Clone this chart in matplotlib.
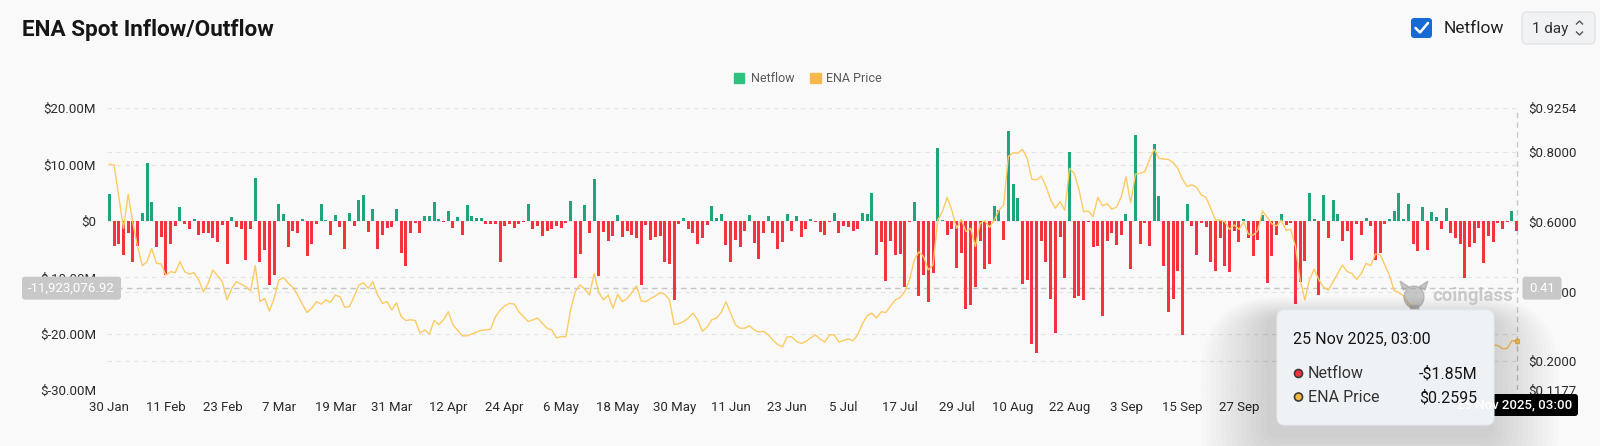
import numpy as np
import pandas as pd
import matplotlib
matplotlib.use("Agg")
import matplotlib.pyplot as plt
from matplotlib.patches import FancyBboxPatch, Rectangle, Ellipse, Polygon

plt.rcParams['font.family'] = ['Roboto', 'DejaVu Sans']

# daily netflow in $M, 30 Jan -> 25 Nov 2025
netflow = [
    4.85, -4.4, -4.1, -6.0, -2.2, -7.2, -4.4, 1.5, 10.3, 3.3,
    -4.6, -2.8, -9.5, -4.0, -0.9, 2.5, -0.5, -1.4, 0.35, -2.4,
    -2.2, -2.1, -3.0, -3.8, -0.8, -7.6, 0.7, -1.1, -1.5, -6.9,
    -1.4, 7.6, -7.3, -5.2, -11.3, -9.5, 3.1, 1.3, -4.6, -1.8,
    -2.1, 0.3, -6.2, -4.1, -0.5, 3.1, 0.1, -2.4, 1.1, -1.1,
    -4.9, 1.5, -0.95, 3.8, 4.6, -2.0, 2.1, -5.0, -2.4, -1.2,
    -1.1, 2.2, -5.7, -8.0, -2.2, -0.4, -2.2, 0.9, 0.8, 3.3,
    0.4, -0.2, 1.7, -1.2, 0.7, -2.5, 2.8, 0.8, 0.6, 0.5,
    -0.6, -0.6, -0.6, -7.3, -0.9, -0.5, -1.2, -0.6, -0.2, 3.0,
    -1.4, -0.9, -2.7, -1.7, -1.4, -0.9, -1.2, -0.3, 3.5, -10.2,
    -5.8, 2.9, -2.2, 7.5, -9.8, -2.0, -3.6, -2.7, 1.0, -2.8,
    -1.7, -2.4, -3.1, -11.4, -0.65, -3.3, -2.8, -2.7, -7.3, -7.6,
    -14.1, -0.6, 0.6, -1.4, -2.1, -4.0, -3.0, -0.8, 2.7, 0.6,
    1.2, -4.3, -7.3, -3.3, -4.6, -1.7, 1.1, -3.9, -6.7, -2.1,
    0.9, -2.2, -4.9, -3.7, 1.3, -1.8, 0.8, -2.8, -1.4, 0.35,
    -0.1, -2.0, -2.5, -0.2, 1.5, -2.1, -0.9, -1.1, -1.8, -1.5,
    1.5, 1.2, 5.0, -6.0, -3.8, -10.7, -3.6, -6.1, -5.9, -11.8,
    -0.2, 3.4, -13.4, -9.6, -14.4, -9.2, 13.0, 0.1, -2.5, -1.5,
    -8.3, -5.7, -15.7, -14.9, -11.7, -3.6, -8.6, -7.7, 2.7, 1.9,
    -3.4, 15.9, 6.6, 4.0, -11.1, -10.4, -21.9, -23.4, -3.6, -7.3,
    -13.8, -19.8, -2.8, -10.1, 12.2, -13.7, -13.3, -14.1, -0.2, -4.6,
    -4.5, -16.9, -3.6, -2.1, -4.2, -2.4, 1.2, -8.5, 15.2, -4.0,
    -0.3, -4.5, 13.6, 4.4, -8.0, -16.2, -13.9, -8.8, -20.3, 3.0,
    -0.9, -6.1, -0.3, -1.1, -7.2, -8.9, -3.1, -8.0, -9.1, -1.8,
    -3.7, 0.3, -3.0, -6.2, -3.4, 1.1, -11.0, -6.2, -2.5, 1.2,
    -0.8, -0.3, -14.8, -10.8, -7.1, 4.9, 0.3, -13.1, 4.7, -3.1,
    3.8, 1.3, -3.6, -1.7, -6.9, -0.6, -2.5, 0.6, -0.9, -7.0,
    -5.6, -0.6, 0.3, 1.7, 4.9, 0.3, 3.1, -4.1, -5.3, 2.5,
    -5.2, 1.6, 0.7, -1.4, 2.3, -2.2, -3.0, -4.1, -10.1, -4.6,
    -3.9, -1.2, -7.4, -2.7, -3.7, -0.3, -1.5, -0.1, 1.8, -1.85,
]

# ENA price in $
price = [
    0.765, 0.763, 0.672, 0.581, 0.679, 0.596, 0.529, 0.474, 0.486, 0.524,
    0.481, 0.479, 0.447, 0.457, 0.454, 0.486, 0.457, 0.450, 0.454, 0.433,
    0.399, 0.424, 0.462, 0.445, 0.428, 0.376, 0.409, 0.428, 0.421, 0.414,
    0.402, 0.474, 0.371, 0.380, 0.344, 0.380, 0.433, 0.440, 0.424, 0.412,
    0.390, 0.364, 0.340, 0.352, 0.371, 0.364, 0.376, 0.369, 0.390, 0.385,
    0.355, 0.357, 0.385, 0.419, 0.425, 0.409, 0.428, 0.390, 0.366, 0.371,
    0.347, 0.368, 0.328, 0.317, 0.319, 0.317, 0.281, 0.290, 0.278, 0.317,
    0.305, 0.319, 0.342, 0.305, 0.289, 0.273, 0.273, 0.278, 0.284, 0.289,
    0.290, 0.292, 0.327, 0.346, 0.359, 0.366, 0.364, 0.342, 0.328, 0.314,
    0.319, 0.324, 0.309, 0.295, 0.290, 0.267, 0.271, 0.270, 0.348, 0.400,
    0.419, 0.407, 0.390, 0.452, 0.397, 0.376, 0.390, 0.352, 0.392, 0.371,
    0.380, 0.397, 0.416, 0.373, 0.371, 0.380, 0.387, 0.397, 0.392, 0.376,
    0.305, 0.308, 0.314, 0.324, 0.338, 0.319, 0.286, 0.298, 0.319, 0.324,
    0.340, 0.371, 0.338, 0.305, 0.295, 0.295, 0.302, 0.290, 0.284, 0.286,
    0.276, 0.260, 0.248, 0.241, 0.270, 0.270, 0.257, 0.251, 0.257, 0.267,
    0.276, 0.264, 0.255, 0.276, 0.276, 0.255, 0.260, 0.264, 0.259, 0.276,
    0.308, 0.331, 0.338, 0.324, 0.342, 0.340, 0.359, 0.376, 0.383, 0.400,
    0.433, 0.490, 0.514, 0.500, 0.462, 0.476, 0.605, 0.629, 0.670, 0.633,
    0.581, 0.607, 0.572, 0.581, 0.529, 0.595, 0.603, 0.584, 0.605, 0.633,
    0.648, 0.787, 0.798, 0.796, 0.808, 0.782, 0.722, 0.720, 0.731, 0.701,
    0.663, 0.639, 0.658, 0.633, 0.753, 0.739, 0.693, 0.629, 0.631, 0.615,
    0.670, 0.646, 0.652, 0.636, 0.642, 0.672, 0.729, 0.654, 0.737, 0.739,
    0.744, 0.779, 0.808, 0.782, 0.780, 0.779, 0.770, 0.753, 0.722, 0.701,
    0.706, 0.699, 0.677, 0.670, 0.639, 0.605, 0.605, 0.600, 0.578, 0.591,
    0.578, 0.600, 0.565, 0.562, 0.575, 0.631, 0.613, 0.594, 0.588, 0.605,
    0.576, 0.578, 0.529, 0.433, 0.376, 0.435, 0.464, 0.433, 0.412, 0.404,
    0.428, 0.452, 0.476, 0.457, 0.452, 0.435, 0.452, 0.481, 0.474, 0.508,
    0.505, 0.476, 0.445, 0.402, 0.397, 0.387, 0.366, 0.352, 0.340, 0.335,
    0.322, 0.310, 0.305, 0.298, 0.290, 0.283, 0.285, 0.278, 0.272, 0.268,
    0.262, 0.258, 0.255, 0.250, 0.247, 0.245, 0.236, 0.237, 0.259, 0.2595,
]

left_ticks = [20e6, 10e6, 0, -10e6, -20e6, -30e6]
left_labels = ['$20.00M', '$10.00M', '$0', '$-10.00M', '$-20.00M', '$-30.00M']
right_ticks = [0.9254, 0.8, 0.6, 0.4, 0.2, 0.1177]
right_labels = ['$0.9254', '$0.8000', '$0.6000', '$0.4000', '$0.2000', '$0.1177']
cross_value = -11923076.92
cross_price = 0.41

dates = pd.date_range('2025-01-30', periods=len(netflow), freq='D')
x = np.arange(len(netflow))
flow = np.array(netflow) * 1e6

BG = '#f9f9f9'
GREEN = '#1fa47b'
RED = '#f4333f'
GOLD = '#fccb62'

W, H = 1600, 446
fig = plt.figure(figsize=(16, 4.46), dpi=100, facecolor=BG)
ax = fig.add_axes([107 / W, 1 - 390 / H, (1519 - 107) / W, (390 - 108.3) / H])
ax.set_facecolor(BG)
ax.set_xlim(-0.5, len(x) - 0.5)
ax.set_ylim(-30e6, 20e6)

ax2 = ax.twinx()
ax2.set_ylim(0.1177, 0.9254)

# grid lines for both axes, drawn behind the bars
def price_to_left(p):
    l0, l1 = ax.get_ylim()
    r0, r1 = ax2.get_ylim()
    return l0 + (p - r0) / (r1 - r0) * (l1 - l0)

for v in left_ticks:
    ax.axhline(v, color='#e4e4e4', lw=0.8, ls=(0, (4, 4)), zorder=0)
for p in [0.8, 0.4, 0.2]:
    ax.axhline(price_to_left(p), color='#e4e4e4', lw=0.8, ls=(0, (4, 4)), zorder=0)

colors = [GREEN if v >= 0 else RED for v in flow]
ax.bar(x, flow, width=0.64, color=colors, zorder=2)

ax2.plot(x, price, color=GOLD, lw=1.0, zorder=3, solid_joinstyle='round')
ax2.plot(x[-1], price[-1], 'o', ms=3.5, mfc=GOLD, mec='#e9ad3c', mew=0.8, zorder=4)

# crosshair
ax.axhline(cross_value, color='#c4c4c4', lw=1.0, ls=(0, (4, 3)), zorder=1)
ax.axvline(x[-1], color='#c8c8c8', lw=1.0, ls=(0, (4, 3)), zorder=1)

for a in (ax, ax2):
    for s in a.spines.values():
        s.set_visible(False)
    a.tick_params(length=0, labelsize=9.5, labelcolor='#2b2b2b')

ax.set_yticks(left_ticks)
ax.set_yticklabels(left_labels)
ax.tick_params(axis='y', pad=8)
ax2.set_yticks(right_ticks)
ax2.set_yticklabels(right_labels)
ax2.tick_params(axis='y', pad=7)

# every 12 days; the later ones sit under the tooltip, so stop at 27 Sep
xt = x[:241:12]
ax.set_xticks(xt)
ax.set_xticklabels([f"{d.day} {d.strftime('%b')}" for d in dates[xt]])
ax.tick_params(axis='x', pad=8)

# overlay in pixel coordinates for the UI parts
ov = fig.add_axes([0, 0, 1, 1], zorder=10)
ov.set_xlim(0, W)
ov.set_ylim(H, 0)
ov.axis('off')
ov.patch.set_visible(False)

ov.text(22, 30, 'ENA Spot Inflow/Outflow', fontsize=16.2, fontweight='bold',
        color='#161616', va='center', ha='left')

# legend
ov.add_patch(Rectangle((734, 73), 10, 10, color='#2ec27e'))
ov.text(750.5, 78.5, 'Netflow', fontsize=9, color='#5a5a5a', va='center')
ov.add_patch(Rectangle((810, 73), 10.5, 10, color='#f6b84b'))
ov.text(826.5, 78.5, 'ENA Price', fontsize=9, color='#5a5a5a', va='center')

# header controls
ov.add_patch(FancyBboxPatch((1411, 18), 21, 20, boxstyle='round,pad=0,rounding_size=3',
                            fc='#1769d4', ec='none'))
ov.plot([1415.5, 1420, 1428], [28, 32.5, 23], color='white', lw=1.8, solid_capstyle='round')
ov.text(1444, 28.5, 'Netflow', fontsize=12.5, color='#222222', va='center')
ov.add_patch(FancyBboxPatch((1522, 12), 73, 32, boxstyle='round,pad=0,rounding_size=5',
                            fc='#f1f2f4', ec='#e2e4e8', lw=1))
ov.text(1532, 28.5, '1 day', fontsize=11, color='#333333', va='center')
ov.plot([1576.5, 1579.5, 1582.5], [24, 21, 24], color='#555555', lw=1)
ov.plot([1576.5, 1579.5, 1582.5], [32, 35, 32], color='#555555', lw=1)

# crosshair value labels, placed through the axis transforms
disp = ax.transData.transform((0, cross_value))
cy = H - disp[1]
ov.add_patch(FancyBboxPatch((22, cy - 11.5), 99, 23, boxstyle='round,pad=0,rounding_size=3',
                            fc='#c8c8c8', ec='none'))
ov.text(71.5, cy + 0.5, f"{cross_value:,.2f}", fontsize=9.5, color='white', ha='center', va='center')
ov.add_patch(FancyBboxPatch((1522.5, cy - 11.5), 39, 23, boxstyle='round,pad=0,rounding_size=3',
                            fc='#c8c8c8', ec='none'))
ov.text(1542, cy + 0.5, f"{cross_price:.2f}", fontsize=9.5, color='white', ha='center', va='center')

# watermark
ov.add_patch(Ellipse((1414, 297), 20, 22, color='#9c9c9c', alpha=0.55))
ov.add_patch(Polygon([[1403, 290], [1400, 281], [1409, 287]], color='#9c9c9c', alpha=0.55))
ov.add_patch(Polygon([[1425, 290], [1428, 281], [1419, 287]], color='#9c9c9c', alpha=0.55))
ov.add_patch(Rectangle((1410, 305), 8, 7, color='#9c9c9c', alpha=0.55))
ov.text(1432, 296, 'coinglass', fontsize=13.5, fontweight='bold', color='#bdbdbd',
        va='center', ha='left', alpha=0.8)

# date label under the vertical crosshair
ov.add_patch(FancyBboxPatch((1458, 394), 120, 22, boxstyle='round,pad=0,rounding_size=3',
                            fc='black', ec='none'))
ov.text(1572, 405, dates[-1].strftime('%d %b %Y') + ', 03:00', fontsize=9.5,
        fontweight='medium', color='white', ha='right', va='center')

# tooltip with soft shadow
tx0, ty0, tx1, ty1 = 1277, 310, 1494, 425
for k in range(14, 0, -1):
    g = k * 5
    ov.add_patch(FancyBboxPatch((tx0 - g - 6, ty0 - g * 0.3 + 8), (tx1 - tx0) + 2 * g, (ty1 - ty0) + g * 1.4,
                                boxstyle=f'round,pad=0,rounding_size={8 + g}',
                                fc='black', ec='none', alpha=0.010))
ov.add_patch(FancyBboxPatch((tx0, ty0), tx1 - tx0, ty1 - ty0, boxstyle='round,pad=0,rounding_size=8',
                            fc='#eff2f5', ec='#e6e9ee', lw=0.8))
ov.text(1293, 339, dates[-1].strftime('%d %b %Y') + ', 03:00', fontsize=11.5,
        color='#151515', va='center')
ov.add_patch(Ellipse((1298.5, 373.5), 8, 8, fc='#ef3340', ec='#3a3a3a', lw=1.2))
ov.text(1308, 374, 'Netflow', fontsize=11.5, color='#333333', va='center')
ov.text(1477, 374, f"-${abs(netflow[-1]):.2f}M", fontsize=11.5, color='#151515', va='center', ha='right')
ov.add_patch(Ellipse((1298.5, 397), 8, 8, fc='#f4b944', ec='#3a3a3a', lw=1.2))
ov.text(1308, 397.5, 'ENA Price', fontsize=11.5, color='#333333', va='center')
ov.text(1477, 397.5, f"${price[-1]:.4f}", fontsize=11.5, color='#151515', va='center', ha='right')

fig.savefig('out.png', dpi=100, facecolor=BG)
